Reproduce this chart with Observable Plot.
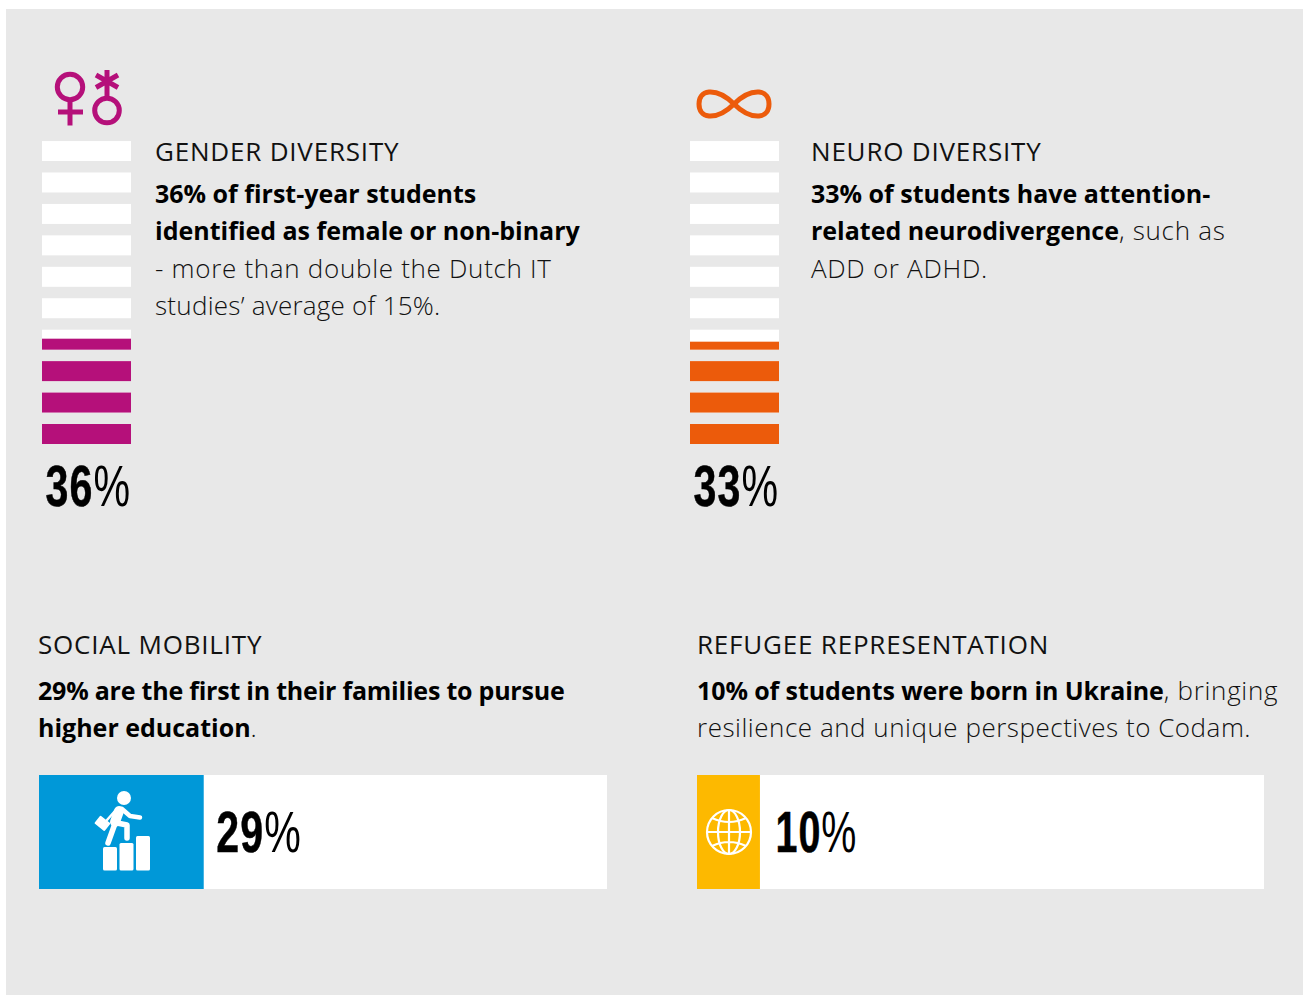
<!DOCTYPE html>
<html><head><meta charset="utf-8">
<script src="https://cdn.jsdelivr.net/npm/d3@7"></script>
<script src="https://cdn.jsdelivr.net/npm/@observablehq/plot@0.6"></script>
<style>
html,body{margin:0;padding:0;background:#fff;}
#page{position:absolute;left:6px;top:9px;width:1297px;height:986px;background:#e8e8e8;}
#root{position:absolute;left:0;top:0;width:1303px;height:996px;font-family:'Open Sans',sans-serif;color:#111;}
.abs{position:absolute;}
.txt{position:absolute;white-space:nowrap;font-size:26px;letter-spacing:.7px;line-height:37.4px;font-weight:300;color:#111;}
.txt b{font-weight:700;color:#000;font-size:25px;letter-spacing:0;}
.txt b.tight{letter-spacing:-.22px;}
.txt b.tight2{letter-spacing:-.1px;}
.txt span.s1{letter-spacing:.25px;}
.txt span.s2{letter-spacing:.52px;}
.head{position:absolute;white-space:nowrap;font-size:26px;letter-spacing:.8px;line-height:30px;font-weight:400;color:#111;}
svg{display:block;overflow:visible;}
</style></head><body>
<div id="page"></div>
<div id="root"></div>
<script>
// ---- data ----
const gaugeNames = ["Gender diversity", "Neuro diversity"];
const gaugeLabels = ["36%", "33%"];
const gaugeLevels = [35.5, 34];
const gaugeColors = ["#b5107a", "#ec5b0b"];
const barNames = ["Social mobility", "Refugee representation"];
const barLabels = ["29%", "10%"];
const barLevels = [29, 11.1];
const barColors = ["#0098d8", "#fdb900"];
const segmentStarts = [0, 10, 20, 30, 40, 50, 60, 70, 80, 90];

const root = document.getElementById("root");
function place(node, x, y) {
  node.style.position = "absolute"; node.style.left = x + "px"; node.style.top = y + "px";
  root.appendChild(node);
}
function styleLabel(plot, sx) {
  d3.select(plot).selectAll("text").each(function () {
    const t = this.textContent, num = t.replace("%", "");
    const s = d3.select(this);
    s.text(null).attr("transform", (s.attr("transform") || "") + ` scale(${sx},1)`);
    s.append("tspan").attr("font-weight", 700).attr("stroke", "#000").attr("stroke-width", 0.5).attr("letter-spacing", 1.5).text(num);
    s.append("tspan").attr("font-weight", 400).text("%");
  });
  return plot;
}
const numFont = "'Liberation Sans',sans-serif";

// ---- segmented gauges ----
function gauge(i, left) {
  const level = gaugeLevels[i];
  const segH = 6.36;
  const fillTop = s => s + segH * Math.min(1, Math.max(0, (level - s) / 10));
  const segs = segmentStarts.map(s => ({s}));
  const plot = Plot.plot({
    width: 89, height: 375, margin: 0,
    x: {domain: [0, 1], axis: null},
    y: {domain: [0, 100], range: [303, -11.4], axis: null},
    marks: [
      Plot.rect(segs, {x1: 0, x2: 1, y1: d => d.s, y2: d => d.s + segH, fill: "#fff"}),
      Plot.rect(segs.filter(d => d.s < level), {x1: 0, x2: 1, y1: d => d.s, y2: d => fillTop(d.s), fill: gaugeColors[i]}),
      Plot.text([gaugeLabels[i]], {x: 0, frameAnchor: "bottom", text: d => d, dx: 3, dy: -11, textAnchor: "start", lineAnchor: "bottom",
        fontFamily: numFont, fontSize: 58, fill: "#000"})
    ]
  });
  styleLabel(plot, 0.71);
  place(plot, left, 141);
}
gauge(0, 42);
gauge(1, 690);

// ---- horizontal bars ----
function bar(i, left, w, dx, sx) {
  const plot = Plot.plot({
    width: w, height: 114, margin: 0,
    x: {domain: [0, 100], axis: null},
    y: {domain: [0, 1], axis: null},
    marks: [
      Plot.rect([100], {x1: 0, x2: d => d, y1: 0, y2: 1, fill: "#fff"}),
      Plot.rect([barLevels[i]], {x1: 0, x2: d => d, y1: 0, y2: 1, fill: barColors[i]}),
      Plot.text([barLevels[i]], {x: d => d, frameAnchor: "middle", text: () => barLabels[i], textAnchor: "start", dx, dy: 1,
        fontFamily: numFont, fontSize: 58, fill: "#000"})
    ]
  });
  styleLabel(plot, sx);
  place(plot, left, 775);
}
bar(0, 39, 568, 12, 0.71);
bar(1, 697, 567, 15, 0.68);

// ---- text ----
function text(cls, x, y, html) {
  const d = document.createElement("div");
  d.className = cls; d.innerHTML = html; d.style.left = x + "px"; d.style.top = y + "px";
  root.appendChild(d);
}
text("head", 155, 136, "GENDER DIVERSITY");
text("txt", 155, 175, "<b>36% of first-year students<br>identified as female or non-binary</b><br>- more than double the Dutch IT<br><span class='s1'>studies’ average of 15%.</span>");
text("head", 811, 136, "NEURO DIVERSITY");
text("txt", 811, 175, "<b>33% of students have attention-<br>related neurodivergence</b>, such as<br>ADD or ADHD.");
text("head", 38, 629, "SOCIAL MOBILITY");
text("txt", 38, 672, "<b class='tight'>29% are the first in their families to pursue</b><br><b>higher education</b>.");
text("head", 697, 629, "REFUGEE REPRESENTATION");
text("txt", 697, 672, "<b class='tight2'>10% of students were born in Ukraine</b>, bringing<br><span class='s2'>resilience and unique perspectives to Codam.</span>");

// ---- pictograms ----
const icons = document.createElement("div");
icons.innerHTML = `<svg class="abs" style="left:0;top:0" width="1303" height="996" fill="none" aria-hidden="true">
<g stroke="#b5107a" stroke-width="5">
 <circle cx="70" cy="87" r="12.7"/><path d="M70 100V125.500M58 112H83"/>
 <circle cx="107" cy="110.500" r="12.300"/><path d="M107 70V99M96 75L118 87.500M118 75L96 87.500"/>
</g>
<path d="M734 104C725 95 716 91.500 709 92C702 92.500 699 98 699 104C699 110 702 115.500 709 116C716 116.500 725 113 734 104C743 95 752 91.500 759 92C766 92.500 769 98 769 104C769 110 766 115.500 759 116C752 116.500 743 113 734 104Z" stroke="#ec5b0b" stroke-width="5"/>
<g fill="#fff">
 <circle cx="124" cy="798" r="7"/>
 <rect x="103" y="847" width="14" height="23.500" rx="1.500"/><rect x="119.500" y="843" width="14" height="27.500" rx="1.500"/><rect x="136" y="836" width="14" height="34.500" rx="1.500"/>
 <rect x="96" y="818" width="13" height="10" rx="1" transform="rotate(38 102 823)"/>
</g>
<g stroke="#fff" stroke-linecap="round" stroke-linejoin="round" fill="none">
 <path d="M117 818L108 843" stroke-width="5.500"/>
 <path d="M119 811L115 822" stroke-width="10"/>
 <path d="M117 823L127 825L127 838" stroke-width="5.500"/>
 <path d="M122 809L130 816L140 817.500" stroke-width="4.500"/>
 <path d="M115 811L107 820" stroke-width="2.500"/>
</g>
<g stroke="#fff" stroke-width="2.200" fill="none">
 <circle cx="729" cy="832" r="22"/><ellipse cx="729" cy="832" rx="11" ry="22"/>
 <path d="M729 810V854M707 832H751M712 818Q729 826 746 818M712 846Q729 838 746 846"/>
</g></svg>`;
root.appendChild(icons.firstChild);
</script>
</body></html>
